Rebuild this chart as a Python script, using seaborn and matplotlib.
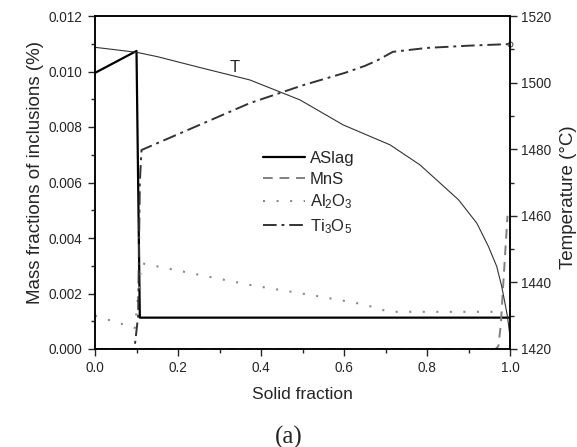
import matplotlib
matplotlib.use("Agg")
import matplotlib.pyplot as plt
from matplotlib.ticker import MultipleLocator, FormatStrFormatter
import seaborn as sns
import pandas as pd

# ---- data ----
aslag_x = [0.0, 0.100, 0.108, 1.0]
aslag_y = [0.00995, 0.01074, 0.00113, 0.00113]

mns_x = [0.0, 0.965, 0.972, 0.978, 0.984, 0.994]
mns_y = [0.0, 0.0, 0.0001, 0.0009, 0.0024, 0.0048]

al2o3_x = [0.0, 0.096, 0.112, 0.373, 0.534, 0.647, 0.695, 0.715, 0.976]
al2o3_y = [0.00120, 0.00076, 0.00309, 0.00231, 0.00191, 0.00161, 0.00140, 0.00134, 0.00134]

ti3o5_x = [0.0, 0.095, 0.104, 0.108, 0.112, 0.373, 0.50, 0.602, 0.65, 0.68, 0.718, 0.80, 0.90, 1.0]
ti3o5_y = [0.0, 0.0, 0.0012, 0.0060, 0.00717, 0.00886, 0.0095, 0.00995, 0.0102, 0.0104, 0.01071, 0.01085, 0.01093, 0.01099]

temp_x = [0.0, 0.10, 0.15, 0.26, 0.373, 0.494, 0.598, 0.711, 0.783, 0.876, 0.920, 0.948, 0.968, 0.980, 0.988, 0.994, 0.999, 1.0]
temp_y = [1510.6, 1509.1, 1507.8, 1504.3, 1500.8, 1494.8, 1487.3, 1481.3, 1475.3, 1464.8, 1457.8, 1450.8, 1444.8, 1438.8, 1433.7, 1429.7, 1424.7, 1422.0]

series_labels = ["ASlag", "MnS", "Al$_2$O$_3$", "Ti$_3$O$_5$"]

# ---- style ----
sns.set_style("ticks")
plt.rcParams["font.family"] = ["Liberation Sans", "DejaVu Sans"]
plt.rcParams["mathtext.fontset"] = "custom"
plt.rcParams["mathtext.rm"] = "Liberation Sans"
plt.rcParams["mathtext.it"] = "Liberation Sans"

W, H = 577, 447
fig = plt.figure(figsize=(W / 100, H / 100), dpi=100)
ax = fig.add_axes([95 / W, 1 - 349 / H, (510 - 95) / W, (349 - 16) / H])
ax2 = ax.twinx()

def draw(axis, x, y, **kw):
    df = pd.DataFrame({"x": x, "y": y})
    sns.lineplot(data=df, x="x", y="y", ax=axis, sort=False, estimator=None, **kw)

draw(ax, aslag_x, aslag_y, color="black", linewidth=1.6, label=series_labels[0])
draw(ax, mns_x, mns_y, color="#808080", linewidth=1.4, linestyle=(0, (5, 3.5)), label=series_labels[1])
draw(ax, al2o3_x, al2o3_y, color="#8a8a8a", linewidth=1.5, linestyle=(0, (1, 5.5)), label=series_labels[2])
draw(ax, ti3o5_x, ti3o5_y, color="#333333", linewidth=1.4, linestyle=(0, (7, 2.5, 1.5, 2.5)), label=series_labels[3])
ax.plot([ti3o5_x[-1]], [ti3o5_y[-1]], marker="o", markersize=3.5, markerfacecolor="none",
        markeredgecolor="#555555", markeredgewidth=0.8, linestyle="none", clip_on=False)

draw(ax2, temp_x, temp_y, color="#333333", linewidth=0.8)

# ---- axes ----
ax.set_xlim(0, 1.0)
ax.set_ylim(0, 0.012)
ax2.set_ylim(1420, 1520)

ax.xaxis.set_major_locator(MultipleLocator(0.2))
ax.xaxis.set_minor_locator(MultipleLocator(0.1))
ax.xaxis.set_major_formatter(FormatStrFormatter("%.1f"))
ax.yaxis.set_major_locator(MultipleLocator(0.002))
ax.yaxis.set_minor_locator(MultipleLocator(0.001))
ax.yaxis.set_major_formatter(FormatStrFormatter("%.3f"))
ax2.yaxis.set_major_locator(MultipleLocator(20))
ax2.yaxis.set_minor_locator(MultipleLocator(10))

for a in (ax, ax2):
    for s in a.spines.values():
        s.set_visible(True)
        s.set_linewidth(1.1)
        s.set_color("black")
ax.tick_params(axis="both", which="major", direction="out", length=5, width=1.0, labelsize=9.8, pad=4)
ax.tick_params(axis="both", which="minor", direction="out", length=3, width=1.0)
ax.tick_params(top=False, right=False, which="both")
ax2.tick_params(axis="y", which="major", direction="out", length=5, width=1.0, labelsize=9.8, pad=3)
ax2.tick_params(axis="y", which="minor", direction="out", length=3, width=1.0)

ax.set_xlabel("Solid fraction", fontsize=12.5, labelpad=8)
ax.set_ylabel("Mass fractions of inclusions (%)", fontsize=13.5, labelpad=3)
ax2.set_ylabel("Temperature (\u00b0C)", fontsize=13.5, labelpad=6)
ax.yaxis.label.set_y(0.53)
ax2.yaxis.label.set_y(0.455)

ax.text(0.337, 0.01016, "T", fontsize=12, ha="center", va="center")

leg = ax.legend(loc="upper left", bbox_to_anchor=(263 / W, 1 - 151 / H),
                bbox_transform=fig.transFigure, frameon=False, fontsize=12,
                handlelength=2.5, handletextpad=0.3, labelspacing=0.35,
                borderpad=0, borderaxespad=0)

fig.text(0.5, (H - 437) / H, "(a)", fontsize=18, ha="center", va="center",
         family=["Liberation Serif", "DejaVu Serif"])

fig.savefig("out.png", dpi=100)
